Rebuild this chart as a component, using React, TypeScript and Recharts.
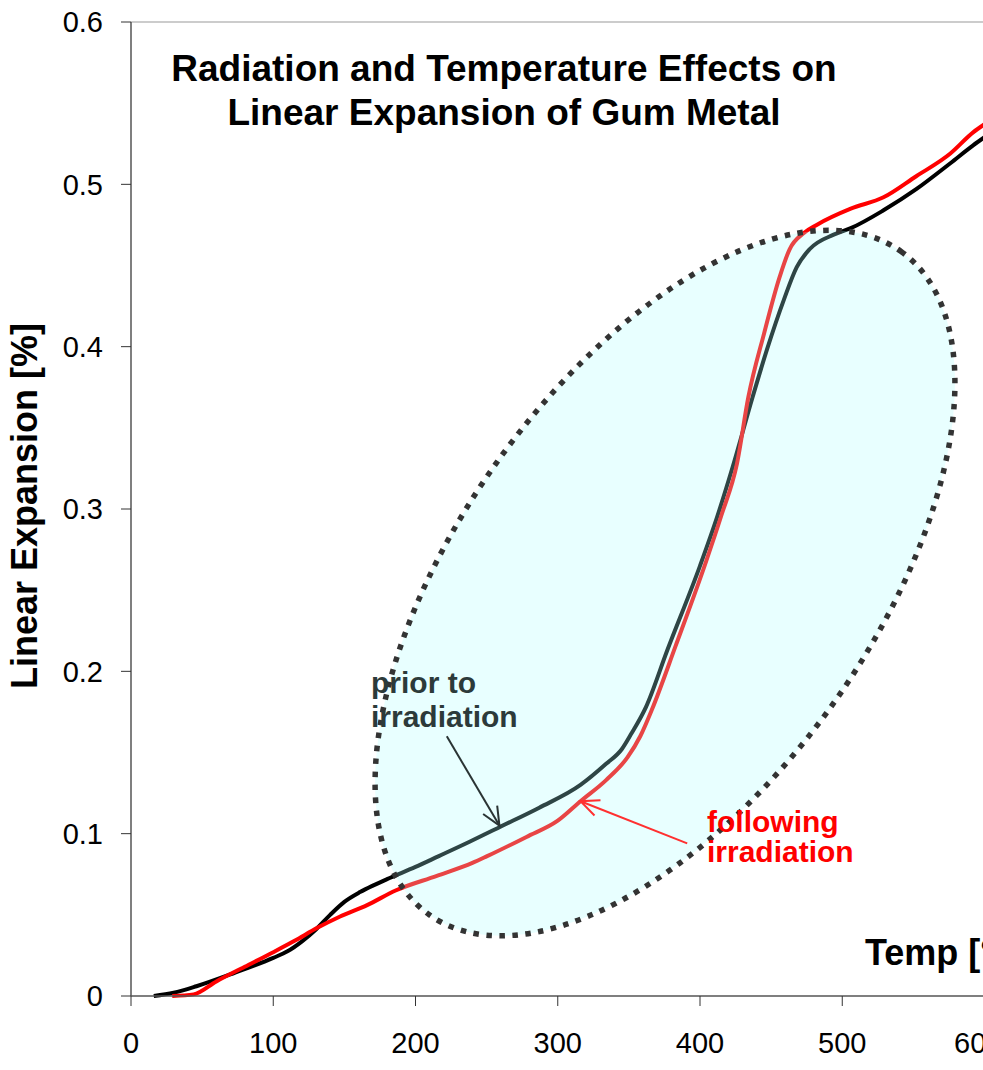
import React from 'react';
import { LineChart, Line, XAxis, YAxis, ReferenceLine, ReferenceDot } from 'recharts';

// Temperature (°C) and linear expansion (%) before irradiation
const priorTemps = [16, 30, 46, 72, 100, 110, 120, 130, 140, 150, 161, 170, 180, 200, 216, 238, 259, 287, 316, 334, 345, 352, 362, 377, 400, 412, 423, 437, 447, 459, 468, 477, 494, 506, 529, 552, 576, 592, 600];
const priorValues = [0, 0.002, 0.006, 0.014, 0.0235, 0.0275, 0.0335, 0.041, 0.050, 0.058, 0.064, 0.068, 0.072, 0.0795, 0.086, 0.095, 0.104, 0.116, 0.130, 0.143, 0.152, 0.162, 0.178, 0.213, 0.265, 0.295, 0.326, 0.369, 0.398, 0.429, 0.449, 0.460, 0.469, 0.473, 0.484, 0.497, 0.513, 0.524, 0.529];

// Same sample after irradiation
const followTemps = [29, 44, 60, 80, 100, 115, 131, 147, 166, 186, 215, 240, 250, 278, 300, 316, 334, 349, 358, 366, 383, 404, 415, 426, 434, 445, 456, 463, 473, 482, 506, 529, 552, 576, 592, 600];
const followValues = [0, 0.001, 0.009, 0.018, 0.027, 0.034, 0.042, 0.049, 0.056, 0.065, 0.074, 0.082, 0.086, 0.098, 0.108, 0.120, 0.133, 0.147, 0.160, 0.176, 0.216, 0.267, 0.296, 0.328, 0.369, 0.408, 0.443, 0.460, 0.470, 0.475, 0.485, 0.492, 0.505, 0.519, 0.532, 0.537];

const tempTicks = [0, 100, 200, 300, 400, 500, 600];
const expansionTicks = [0, 0.1, 0.2, 0.3, 0.4, 0.5, 0.6];

// callout arrows: [tail, tip] in (temp, expansion)
const priorArrow = [{ x: 222, y: 0.16 }, { x: 259, y: 0.105 }];
const followArrow = [{ x: 391, y: 0.094 }, { x: 316, y: 0.12 }];
const highlightCenter = { x: 375.4, y: 0.2544 };

const FONT = '"Liberation Sans", Arial, sans-serif';

const priorData = priorTemps.map((t, i) => ({ t, v: priorValues[i] }));
const followData = followTemps.map((t, i) => ({ t, v: followValues[i] }));

const arrowShape = (color: string) => (p: any) => {
  const { x1, y1, x2, y2 } = p;
  const a = Math.atan2(y2 - y1, x2 - x1);
  const len = 20;
  const spread = 0.42;
  const l = { x: x2 - len * Math.cos(a - spread), y: y2 - len * Math.sin(a - spread) };
  const r = { x: x2 - len * Math.cos(a + spread), y: y2 - len * Math.sin(a + spread) };
  return (
    <g>
      <line x1={x1} y1={y1} x2={x2} y2={y2} stroke={color} strokeWidth={2} />
      <polyline points={`${l.x},${l.y} ${x2},${y2} ${r.x},${r.y}`} fill="none" stroke={color} strokeWidth={2} />
    </g>
  );
};

const highlightShape = (p: any) => (
  <ellipse
    cx={p.cx}
    cy={p.cy}
    rx={407}
    ry={207}
    transform={`rotate(-54.6 ${p.cx} ${p.cy})`}
    fill="#a9ffff"
    fillOpacity={0.27}
    stroke="#333"
    strokeWidth={5.5}
    strokeDasharray="5.5 7.5"
  />
);

export default function App() {
  return (
    <div style={{ position: 'absolute', left: 0, top: 0, width: 983, height: 1070, overflow: 'hidden', background: '#fff' }}>
      <LineChart width={1000} height={1070} margin={{ top: 22, right: 15.5, bottom: 0, left: 0 }}>
        <XAxis
          type="number"
          dataKey="t"
          domain={[0, 600]}
          ticks={tempTicks}
          height={74}
          tickSize={10}
          tickMargin={26}
          axisLine={{ stroke: '#555', strokeWidth: 1.5 }}
          tickLine={{ stroke: '#333' }}
          tick={{ fill: '#000', fontSize: 29, fontFamily: FONT }}
          allowDataOverflow
        />
        <YAxis
          type="number"
          domain={[0, 0.6]}
          ticks={expansionTicks}
          width={131}
          tickSize={10}
          tickMargin={18}
          axisLine={{ stroke: '#555', strokeWidth: 1.5 }}
          tickLine={{ stroke: '#333' }}
          tick={{ fill: '#000', fontSize: 29, fontFamily: FONT }}
        />
        <ReferenceLine y={0.6} stroke="#999" strokeWidth={1} />
        <Line data={priorData} dataKey="v" type="monotone" stroke="#000" strokeWidth={4} dot={false} isAnimationActive={false} />
        <Line data={followData} dataKey="v" type="monotone" stroke="#ff0000" strokeWidth={4} dot={false} isAnimationActive={false} />
        <ReferenceDot x={highlightCenter.x} y={highlightCenter.y} r={1} shape={highlightShape} zIndex={700} />
        <ReferenceLine segment={priorArrow} shape={arrowShape('#2a3434')} zIndex={800} />
        <ReferenceLine segment={followArrow} shape={arrowShape('#ff3030')} zIndex={800} />
      </LineChart>
      <svg width={983} height={1070} style={{ position: 'absolute', left: 0, top: 0, pointerEvents: 'none' }}>
        <g fontFamily={FONT} fontWeight="bold">
          <text x={504} y={81} fontSize={37} textAnchor="middle" fill="#000">Radiation and Temperature Effects on</text>
          <text x={504} y={125} fontSize={37} textAnchor="middle" fill="#000">Linear Expansion of Gum Metal</text>
          <text x={37} y={506} fontSize={36} textAnchor="middle" fill="#000" transform="rotate(-90 37 506)">Linear Expansion [%]</text>
          <text x={865} y={965} fontSize={36} fill="#000">Temp  [°C]</text>
          <text x={371} y={693} fontSize={30} fill="#2c3a3a">prior to</text>
          <text x={371} y={727} fontSize={30} fill="#2c3a3a">irradiation</text>
          <text x={707} y={832} fontSize={30} fill="#ff0000">following</text>
          <text x={707} y={862} fontSize={30} fill="#ff0000">irradiation</text>
        </g>
      </svg>
    </div>
  );
}
